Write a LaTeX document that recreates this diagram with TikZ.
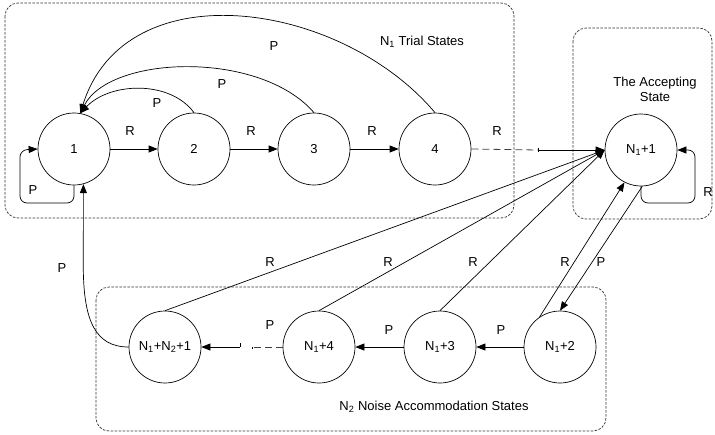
\documentclass[tikz,border=0pt]{standalone}
\usepackage{fontspec}
\setmainfont{Liberation Sans}
\usetikzlibrary{arrows.meta}
\begin{document}
\begin{tikzpicture}[x=1pt,y=-1pt,font=\fontsize{13}{15}\selectfont,
  st/.style={circle,draw,minimum size=72pt,inner sep=0pt,line width=0.7pt},
  grp/.style={draw=black!80,dash pattern=on 2.5pt off 1.5pt,rounded corners=13pt,line width=0.7pt},
  ed/.style={line width=0.7pt,-{Triangle[length=9pt,width=7pt]}},
  dsh/.style={line width=0.8pt,draw=black!75,dash pattern=on 7pt off 4pt},
  lb/.style={inner sep=0pt}]
\useasboundingbox (0,0) rectangle (715,434);
% groups
\draw[grp] (5,3) rectangle (514,218);
\draw[grp] (573,28) rectangle (712,219);
\draw[grp] (96,287) rectangle (606,431);
\node[lb] (g1) at (422,42) {N\textsubscript{1} Trial States};
\node[lb,align=center] (g2) at (655,89) {The Accepting\\State};
\node[lb] (g3) at (434,407) {N\textsubscript{2} Noise Accommodation States};
% states
\node[st] (s1) at (74,149) {1};
\node[st] (s2) at (194,149) {2};
\node[st] (s3) at (314,149) {3};
\node[st] (s4) at (435,149) {4};
\node[st] (acc) at (641,150) {N\textsubscript{1}+1};
\node[st] (m2) at (560,347) {N\textsubscript{1}+2};
\node[st] (m3) at (440,347) {N\textsubscript{1}+3};
\node[st] (m4) at (319,347) {N\textsubscript{1}+4};
\node[st] (m5) at (165,347) {N\textsubscript{1}+N\textsubscript{2}+1};
% R chain
\draw[ed] (s1) -- (s2);
\draw[ed] (s2) -- (s3);
\draw[ed] (s3) -- (s4);
\node[lb] (r12) at (130,131) {R};
\node[lb] (r23) at (251,131) {R};
\node[lb] (r34) at (372,131) {R};
\coordinate (c1) at (538,150);
\draw[dsh] (s4.east) -- (c1);
\draw[ed] (c1) -- (acc.west);
\draw[line width=0.7pt] (538,148) -- (538,152);
\node[lb] (r4a) at (497,131) {R};
% self loops
\draw[ed,rounded corners=7pt] (s1.south) -- (74,203) -- (20,203) -- (20,150) -- (s1.west);
\node[lb] (p11) at (33,190) {P};
\draw[ed,rounded corners=7pt] (acc.south) -- (641,203) -- (695,203) -- (695,150) -- (acc.east);
\node[lb] (raa) at (708,192) {R};
% P arcs back to 1
\draw[ed] (s2.north) .. controls (170,80) and (110,82) .. (s1.80);
\draw[ed] (s3.north) .. controls (260,50) and (110,55) .. (s1.80);
\draw[ed] (s4.north) .. controls (340,0) and (125,-30) .. (s1.80);
\node[lb] (p21) at (157,103) {P};
\node[lb] (p31) at (222,84) {P};
\node[lb] (p41) at (274,46) {P};
% P from last noise state to 1
\draw[ed] (m5.west) .. controls (95,347) and (84,320) .. (83.3,270) -- (s1.285);
\node[lb] (p51) at (62,268) {P};
% R to accepting
\draw[ed] (m5.north) -- (acc.west);
\draw[ed] (m4.north) -- (acc.west);
\draw[ed] (m3.north) -- (acc.west);
\draw[ed] (m2.124) -- (acc.243);
\node[lb] (r5) at (270,262) {R};
\node[lb] (r4) at (388,262) {R};
\node[lb] (r3) at (473,262) {R};
\node[lb] (r2) at (565,262) {R};
\draw[ed] (acc.272) -- (m2.north);
\node[lb] (pa2) at (601,262) {P};
% P chain in noise states
\draw[ed] (m2) -- (m3);
\draw[ed] (m3) -- (m4);
\node[lb] (p23) at (501,330) {P};
\node[lb] (p34) at (389,330) {P};
\coordinate (t1) at (240,347);
\coordinate (t2) at (252,347);
\draw[dsh] (m4.west) -- (t2);
\draw[line width=0.7pt] (t2) -- ++(0,2);
\draw[ed] (t1) -- (m5.east);
\draw[line width=0.7pt] (t1) -- ++(0,-4);
\node[lb] (p45) at (270,325) {P};
\end{tikzpicture}
\end{document}
